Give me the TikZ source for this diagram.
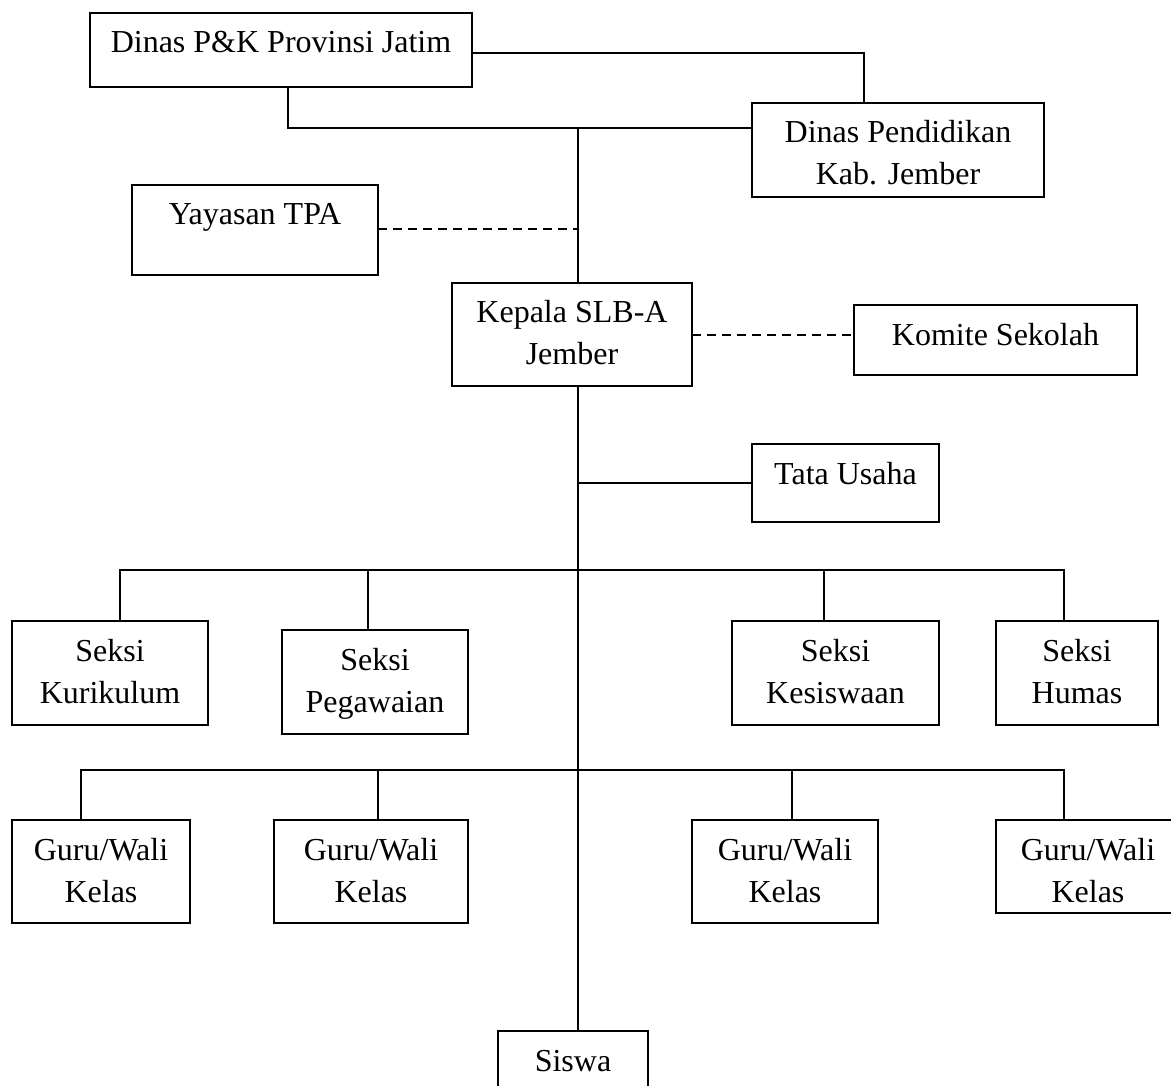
\documentclass[tikz,border=0pt]{standalone}
\usepackage{fontspec}
\setmainfont{Liberation Serif}
\usetikzlibrary{calc}
\tikzset{
  box/.style={draw=black, line width=1.5pt, inner sep=0pt, outer sep=0pt, fill=white},
  txt/.style={inner sep=0pt, outer sep=0pt, font=\fontsize{32}{42}\selectfont},
  conn/.style={draw=black, line width=1.5pt},
  dconn/.style={conn, dash pattern=on 9pt off 6pt}
}
\newcommand\bx[6]{%
  \node[box, minimum width={(#4-#2)*1pt}, minimum height={(#5-#3)*1pt}] (#1) at ({(#2+#4)/2},{(#3+#5)/2}) {};
  \node[txt, anchor=base] (#1t) at ({(#2+#4)/2},{#3+40}) {\vtop{\halign{\hfil##\hfil\cr #6\cr}}};
}
\begin{document}
\begin{tikzpicture}[x=1pt,y=-1pt]
\useasboundingbox (0,0) rectangle (1171,1086);
\clip (0,0) rectangle (1171,1086);
\fill[white] (0,0) rectangle (1171,1086);
\coordinate (t) at (578,128);
\coordinate (b1) at (578,570);
\coordinate (b2) at (578,770);
\bx{pk}{90}{13}{472}{87}{Dinas P\&K Provinsi Jatim}
\bx{dp}{752}{103}{1044}{197}{Dinas Pendidikan\cr Kab. Jember}
\bx{yy}{132}{185}{378}{275}{Yayasan TPA}
\bx{kp}{452}{283}{692}{386}{Kepala SLB-A\cr Jember}
\bx{km}{854}{305}{1137}{375}{Komite Sekolah}
\bx{ta}{752}{444}{939}{522}{Tata Usaha}
\bx{kur}{12}{621}{208}{725}{Seksi\cr Kurikulum}
\bx{peg}{282}{630}{468}{734}{Seksi\cr Pegawaian}
\bx{kes}{732}{621}{939}{725}{Seksi\cr Kesiswaan}
\bx{hum}{996}{621}{1158}{725}{Seksi\cr Humas}
\bx{ga}{12}{820}{190}{923}{Guru/Wali\cr Kelas}
\bx{gb}{274}{820}{468}{923}{Guru/Wali\cr Kelas}
\bx{gc}{692}{820}{878}{923}{Guru/Wali\cr Kelas}
\bx{gd}{996}{820}{1180}{913}{Guru/Wali\cr Kelas}
\bx{sis}{498}{1031}{648}{1100}{Siswa}
% top part
\draw[conn] ([yshift=-3pt]pk.east) -| ([xshift=-34pt]dp.north);
\draw[conn] ([xshift=7pt]pk.south) |- ([yshift=22pt]dp.west);
\draw[conn] (t) -- (t |- kp.north);
\draw[dconn] ([yshift=1pt]yy.east) -- ([yshift=1pt]yy.east -| t);
\draw[dconn] ([yshift=-0.5pt]kp.east) -- ([yshift=-0.5pt]kp.east -| km.west);
\draw[conn] (t |- kp.south) -- (t |- sis.north);
\draw[conn] (ta.west) -- (ta.west -| t);
% seksi bus
\draw[conn] ([xshift=10pt]kur.north) |- (b1);
\draw[conn] ([xshift=-7pt]peg.north) |- (b1);
\draw[conn] ([xshift=-11.5pt]kes.north) |- (b1);
\draw[conn] ([xshift=-13pt]hum.north) |- (b1);
% guru bus
\draw[conn] ([xshift=-20pt]ga.north) |- (b2);
\draw[conn] ([xshift=7pt]gb.north) |- (b2);
\draw[conn] ([xshift=7pt]gc.north) |- (b2);
\draw[conn] ([xshift=-24pt]gd.north) |- (b2);
\end{tikzpicture}
\end{document}
